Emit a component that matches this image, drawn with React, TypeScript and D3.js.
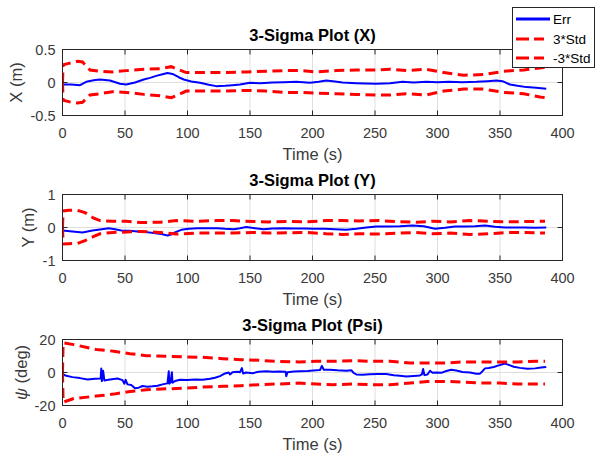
import React from "react";
import * as d3 from "d3";

// ---------- DATA ----------
const xTicks = [0, 50, 100, 150, 200, 250, 300, 350, 400];

// Plot X
const stdXt = [0, 0.5, 5, 12, 16, 22, 30, 40, 51, 65, 78, 87, 92, 99, 113, 131, 147, 163, 179, 192, 203, 219, 235, 251, 262, 275, 291, 305, 321, 337, 353, 369, 382, 386];
const stdXup = [0, 0.27, 0.29, 0.32, 0.31, 0.19, 0.17, 0.16, 0.18, 0.2, 0.21, 0.24, 0.2, 0.15, 0.15, 0.15, 0.16, 0.17, 0.18, 0.18, 0.16, 0.18, 0.19, 0.19, 0.2, 0.18, 0.2, 0.15, 0.11, 0.12, 0.17, 0.19, 0.22, 0.23];
const stdXlow = [0, -0.27, -0.29, -0.31, -0.3, -0.19, -0.17, -0.14, -0.15, -0.18, -0.2, -0.23, -0.19, -0.13, -0.13, -0.13, -0.12, -0.13, -0.15, -0.15, -0.16, -0.17, -0.18, -0.19, -0.19, -0.17, -0.19, -0.13, -0.1, -0.1, -0.15, -0.17, -0.22, -0.23];
const errXt = [0, 7, 14, 19, 25, 30, 38, 46, 51, 58, 65, 70, 75, 80, 84, 88, 93, 97, 103, 110, 117, 123, 130, 136, 142, 150, 158, 168, 177, 187, 198, 205, 211, 218, 224, 235, 251, 262, 272, 281, 291, 300, 309, 320, 331, 340, 347, 352, 358, 364, 371, 379, 387];
const errXv = [-0.03, -0.03, -0.04, 0.01, 0.035, 0.045, 0.03, -0.02, -0.03, 0.0, 0.045, 0.07, 0.1, 0.125, 0.145, 0.13, 0.08, 0.045, 0.015, -0.005, -0.035, -0.055, -0.05, -0.04, -0.03, -0.005, -0.01, 0, 0.005, 0.01, -0.005, 0.01, 0.03, 0.015, 0, -0.01, -0.02, -0.01, 0.01, 0.0, 0.01, 0.005, 0.01, 0.005, 0.01, 0.02, 0.03, 0.02, -0.03, -0.05, -0.07, -0.08, -0.095];

// Plot Y
const stdYt = [0, 0.5, 5, 12, 18, 25, 30, 40, 51, 62, 78, 91, 107, 123, 136, 152, 165, 181, 195, 211, 224, 237, 253, 268, 283, 296, 310, 326, 341, 355, 370, 386];
const stdYup = [0, 0.5, 0.52, 0.52, 0.45, 0.28, 0.21, 0.19, 0.19, 0.15, 0.16, 0.21, 0.19, 0.21, 0.21, 0.18, 0.17, 0.18, 0.17, 0.21, 0.21, 0.2, 0.21, 0.18, 0.16, 0.19, 0.17, 0.21, 0.19, 0.17, 0.18, 0.19];
const stdYlow = [0, -0.5, -0.49, -0.48, -0.4, -0.27, -0.19, -0.15, -0.14, -0.12, -0.15, -0.2, -0.17, -0.17, -0.17, -0.15, -0.17, -0.16, -0.15, -0.19, -0.21, -0.19, -0.2, -0.17, -0.15, -0.19, -0.17, -0.21, -0.19, -0.15, -0.15, -0.17];
const errYt = [0, 8, 16, 24, 30, 37, 42, 47, 54, 60, 67, 73, 79, 84, 87, 90, 95, 101, 108, 116, 124, 130, 137, 142, 147, 154, 161, 168, 177, 185, 194, 201, 210, 218, 227, 235, 243, 251, 260, 270, 280, 289, 298, 306, 314, 322, 330, 338, 346, 354, 362, 370, 378, 387];
const errYv = [-0.09, -0.12, -0.15, -0.09, -0.06, -0.02, -0.05, -0.09, -0.1, -0.12, -0.14, -0.17, -0.2, -0.24, -0.21, -0.15, -0.07, -0.04, -0.02, -0.02, -0.02, -0.04, -0.05, -0.02, 0.015, -0.02, -0.05, -0.03, -0.02, -0.03, -0.03, -0.04, -0.04, -0.05, -0.07, -0.04, 0.0, 0.03, 0.03, 0.04, 0.06, 0.04, -0.04, -0.01, 0.03, 0.03, 0.04, 0.06, 0.02, 0.0, 0.0, 0.0, -0.01, 0.0];

// Plot Psi
const stdPt = [0, 0.5, 9, 27, 41, 54, 67, 83, 99, 112, 128, 143, 157, 171, 189, 203, 217, 233, 247, 262, 278, 292, 307, 321, 335, 350, 364, 379, 386];
const stdPup = [0, 18, 16.9, 13.9, 12.9, 11.4, 10.2, 9.8, 9.4, 9.2, 8.4, 7.8, 7.4, 6.8, 6.4, 6.8, 6.8, 7.2, 6.8, 6.8, 5.8, 5.8, 5.8, 6.4, 6.4, 6.4, 6.4, 6.8, 6.8];
const stdPlow = [0, -18, -15.8, -14.3, -13.1, -11.5, -10.5, -9.9, -9.5, -8.8, -8.4, -8.0, -7.4, -7.0, -6.4, -7.0, -7.4, -7.0, -7.4, -7.4, -6.4, -5.4, -5.4, -5.8, -6.4, -6.4, -7.0, -7.0, -7.0];
const errPt = [0, 3, 8, 14, 20, 26, 30.5, 31, 31.5, 32.5, 33.5, 38, 44, 48, 49.5, 50.5, 52, 55, 58, 61, 64, 68, 72, 76, 80, 84, 85, 85.5, 86.5, 87.5, 88, 90, 94, 100, 106, 112, 118, 122, 126, 130, 133, 134, 136, 140, 142, 143.5, 144.5, 147, 152, 157, 163, 168, 173, 178.5, 179, 180, 185, 190, 196, 203, 206, 207.5, 209, 214, 220, 227, 231, 233, 235, 240, 246, 252, 259, 265, 270, 275, 281, 286, 287.5, 288.5, 289.5, 292, 294, 296, 299, 303, 307, 311, 315, 320, 326, 331, 334, 336, 338, 341, 345, 349, 352, 354, 357, 361, 366, 372, 378, 383, 387];
const errPv = [-0.9, -2.0, -2.8, -3.4, -4.2, -3.8, -3.6, 2.4, -5.2, 1.0, -4.8, -4.3, -3.6, -4.6, -6.8, -4.4, -7.2, -7.6, -9.5, -9.2, -8.2, -8.6, -8.4, -8.0, -7.2, -6.6, 0.7, -6.8, -5.8, 0.2, -6.2, -5.2, -4.4, -4.6, -4.2, -4.4, -3.8, -3.2, -2.2, -0.6, 0.0, -1.2, 0.2, 0.4, 0.2, 2.7, -0.6, 0.0, -0.4, 0.4, 0.8, 0.4, 0.6, 0.4, -2.2, 0.2, 0.6, 0.7, 0.9, 1.3, 1.5, 4.0, 1.7, 1.7, 1.3, 1.1, 1.4, -0.3, -1.2, -1.3, -1.1, -0.9, -0.9, -1.6, -2.0, -2.4, -2.1, -1.8, -1.2, 2.1, -1.6, -1.2, 1.1, -0.2, 0.0, -0.2, 0.9, 1.7, 1.2, 0.3, 0.0, -0.7, -0.7, 0.8, 2.5, 2.7, 3.3, 4.3, 5.0, 5.4, 4.6, 3.5, 2.8, 2.3, 2.5, 3.0, 3.4];

const titles = ["3-Sigma Plot (X)", "3-Sigma Plot (Y)", "3-Sigma Plot (Psi)"];
const yTickSets = [[-0.5, 0, 0.5], [-1, 0, 1], [-20, 0, 20]];
const yTickLabels = [["-0.5", "0", "0.5"], ["-1", "0", "1"], ["-20", "0", "20"]];
const legendLabels = ["Err", "3*Std", "-3*Std"];

// ---------- LAYOUT ----------
const W = 596, H = 460;
const L = 62.5, R = 562.5;
const tops = [49.5, 194.5, 339.5];
const PH = 66;
const ylabelX = [22, 34, 27];
const AX = "#262626";
const TXT = "#3a3a3a";
const GRID = "#dfdfdf";
const FONT = "'Liberation Sans', Arial, Helvetica, sans-serif";

type Panel = {
  title: string; yt: number[]; ytl: string[]; ylab: React.ReactNode;
  errT: number[]; errV: number[]; sT: number[]; sUp: number[]; sLow: number[];
};

const panels: Panel[] = [
  { title: titles[0], yt: yTickSets[0], ytl: yTickLabels[0], ylab: "X (m)", errT: errXt, errV: errXv, sT: stdXt, sUp: stdXup, sLow: stdXlow },
  { title: titles[1], yt: yTickSets[1], ytl: yTickLabels[1], ylab: "Y (m)", errT: errYt, errV: errYv, sT: stdYt, sUp: stdYup, sLow: stdYlow },
  { title: titles[2], yt: yTickSets[2], ytl: yTickLabels[2], ylab: <><tspan fontStyle="italic">ψ</tspan> (deg)</>, errT: errPt, errV: errPv, sT: stdPt, sUp: stdPup, sLow: stdPlow },
];

const x = d3.scaleLinear().domain([0, 400]).range([L, R]);

function PanelView({ p, i }: { p: Panel; i: number }) {
  const top = tops[i];
  const bot = top + PH;
  const y = d3.scaleLinear().domain([p.yt[0], p.yt[2]]).range([bot, top]);
  const line = d3.line<[number, number]>().x(d => x(d[0])).y(d => y(d[1]));
  const errPts = p.errT.map((t, k) => [t, p.errV[k]] as [number, number]);
  const upPts = p.sT.map((t, k) => [t, p.sUp[k]] as [number, number]);
  const lowPts = p.sT.map((t, k) => [t, p.sLow[k]] as [number, number]);
  const cx = (L + R) / 2;
  const cy = (top + bot) / 2;
  return (
    <g>
      <rect x={L} y={top} width={R - L} height={PH} fill="#fff" />
      {xTicks.slice(1, -1).map(t => (
        <line key={"gx" + t} x1={x(t)} x2={x(t)} y1={top} y2={bot} stroke={GRID} strokeWidth={1} />
      ))}
      {p.yt.slice(1, -1).map(t => (
        <line key={"gy" + t} x1={L} x2={R} y1={y(t)} y2={y(t)} stroke={GRID} strokeWidth={1} />
      ))}
      <defs>
        <clipPath id={"clip" + i}>
          <rect x={L} y={top} width={R - L} height={PH} />
        </clipPath>
      </defs>
      <g clipPath={`url(#clip${i})`}>
        <path d={line(errPts) || ""} fill="none" stroke="#0000ff" strokeWidth={2} strokeLinejoin="round" />
        <path d={line(upPts) || ""} fill="none" stroke="#ff0000" strokeWidth={3} strokeDasharray="10 5.5" />
        <path d={line(lowPts) || ""} fill="none" stroke="#ff0000" strokeWidth={3} strokeDasharray="10 5.5" />
      </g>
      {xTicks.map(t => (
        <g key={"tx" + t}>
          <line x1={x(t)} x2={x(t)} y1={bot} y2={bot - 5} stroke={AX} />
          <line x1={x(t)} x2={x(t)} y1={top} y2={top + 5} stroke={AX} />
          <text x={x(t)} y={bot + 22} textAnchor="middle" fontSize={14.5} fill={TXT} fontFamily={FONT}>{t}</text>
        </g>
      ))}
      {p.yt.map((t, k) => (
        <g key={"ty" + t}>
          <line x1={L} x2={L + 5} y1={y(t)} y2={y(t)} stroke={AX} />
          <line x1={R} x2={R - 5} y1={y(t)} y2={y(t)} stroke={AX} />
          <text x={55.5} y={y(t) + 5.5} textAnchor="end" fontSize={14.5} fill={TXT} fontFamily={FONT}>{p.ytl[k]}</text>
        </g>
      ))}
      <rect x={L} y={top} width={R - L} height={PH} fill="none" stroke={AX} strokeWidth={1} />
      <text x={cx} y={top - 8.5} textAnchor="middle" fontSize={16.5} fontWeight="bold" fill="#000" fontFamily={FONT}>{p.title}</text>
      <text x={cx} y={bot + 44} textAnchor="middle" fontSize={16.5} fill={TXT} fontFamily={FONT}>Time (s)</text>
      <text transform={`translate(${ylabelX[i]},${cy}) rotate(-90)`} textAnchor="middle" fontSize={16.5} fill={TXT} fontFamily={FONT}>{p.ylab}</text>
    </g>
  );
}

function Legend() {
  const lx = 512.5, ly = 7.5, lw = 82, lh = 60;
  const rows = [19, 39, 58];
  return (
    <g>
      <rect x={lx} y={ly} width={lw} height={lh} fill="#fff" stroke={AX} strokeWidth={1} />
      <line x1={516} x2={550} y1={rows[0]} y2={rows[0]} stroke="#0000ff" strokeWidth={3} />
      <line x1={516} x2={550} y1={rows[1]} y2={rows[1]} stroke="#ff0000" strokeWidth={3} strokeDasharray="13 5 10" />
      <line x1={516} x2={550} y1={rows[2]} y2={rows[2]} stroke="#ff0000" strokeWidth={3} strokeDasharray="13 5 10" />
      {legendLabels.map((s, k) => (
        <text key={s} x={553} y={rows[k] + 5} fontSize={13.5} fill="#000" fontFamily={FONT}>{s}</text>
      ))}
    </g>
  );
}

export default function App() {
  return (
    <svg width={W} height={H} style={{ position: "absolute", left: 0, top: 0, background: "#fff" }}>
      <rect x={0} y={0} width={W} height={H} fill="#fff" />
      {panels.map((p, i) => <PanelView key={i} p={p} i={i} />)}
      <Legend />
    </svg>
  );
}
